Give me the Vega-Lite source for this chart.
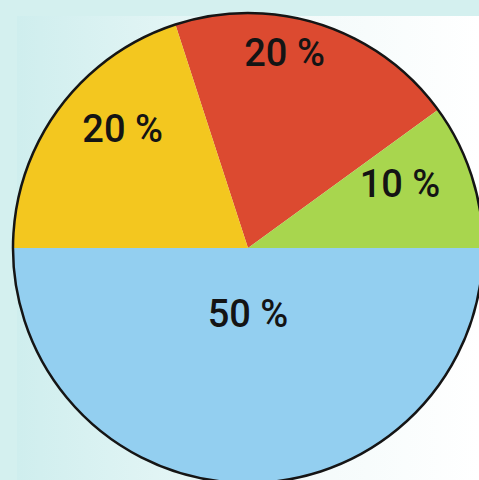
{
  "$schema": "https://vega.github.io/schema/vega-lite/v6.json",
  "autosize": {"type": "none"},
  "width": 462,
  "height": 464,
  "padding": {"left": 17, "top": 16, "right": 0, "bottom": 0},
  "background": "#d4f0ef",
  "view": {
    "stroke": null,
    "fill": {
      "gradient": "linear",
      "x1": 0, "y1": 0, "x2": 1, "y2": 0,
      "stops": [
        {"offset": 0, "color": "#cfeeee"},
        {"offset": 0.6, "color": "#f2fafa"},
        {"offset": 1, "color": "#ffffff"}
      ]
    }
  },
  "data": {
    "values": [
      {"k": 1, "cat": "red", "pct": 20, "label": "20 %"},
      {"k": 2, "cat": "green", "pct": 10, "label": "10 %"},
      {"k": 3, "cat": "blue", "pct": 50, "label": "50 %"},
      {"k": 4, "cat": "yellow", "pct": 20, "label": "20 %"}
    ]
  },
  "encoding": {
    "theta": {
      "field": "pct",
      "type": "quantitative",
      "stack": true,
      "scale": {"range": [-0.31416, 5.96903]}
    },
    "order": {"field": "k", "type": "ordinal"}
  },
  "layer": [
    {
      "mark": {"type": "arc", "radius": 235, "strokeWidth": 0},
      "encoding": {
        "color": {
          "field": "cat",
          "type": "nominal",
          "legend": null,
          "scale": {
            "domain": ["red", "green", "blue", "yellow"],
            "range": ["#dc4a30", "#a8d64e", "#93cff0", "#f3c71f"]
          }
        }
      }
    },
    {
      "data": {"values": [{"k": 0, "pct": 100}]},
      "mark": {"type": "arc", "radius": 235, "fill": "#000000", "fillOpacity": 0, "stroke": "#151515", "strokeWidth": 2.5},
      "encoding": {}
    },
    {
      "mark": {"type": "text", "radius": 196, "dx": -24, "dy": -7, "fontSize": 38, "fontWeight": 500, "font": "Roboto", "color": "#141414", "align": "center", "baseline": "middle"},
      "encoding": {"text": {"condition": {"test": "datum.k == 1", "field": "label"}, "value": ""}}
    },
    {
      "mark": {"type": "text", "radius": 164, "dx": -4, "dy": -11, "fontSize": 38, "fontWeight": 500, "font": "Roboto", "color": "#141414", "align": "center", "baseline": "middle"},
      "encoding": {"text": {"condition": {"test": "datum.k == 2", "field": "label"}, "value": ""}}
    },
    {
      "mark": {"type": "text", "radius": 68, "fontSize": 38, "fontWeight": 500, "font": "Roboto", "color": "#141414", "align": "center", "baseline": "middle"},
      "encoding": {"text": {"condition": {"test": "datum.k == 3", "field": "label"}, "value": ""}}
    },
    {
      "mark": {"type": "text", "radius": 171, "dx": 13, "dy": -16, "fontSize": 38, "fontWeight": 500, "font": "Roboto", "color": "#141414", "align": "center", "baseline": "middle"},
      "encoding": {"text": {"condition": {"test": "datum.k == 4", "field": "label"}, "value": ""}}
    }
  ]
}
